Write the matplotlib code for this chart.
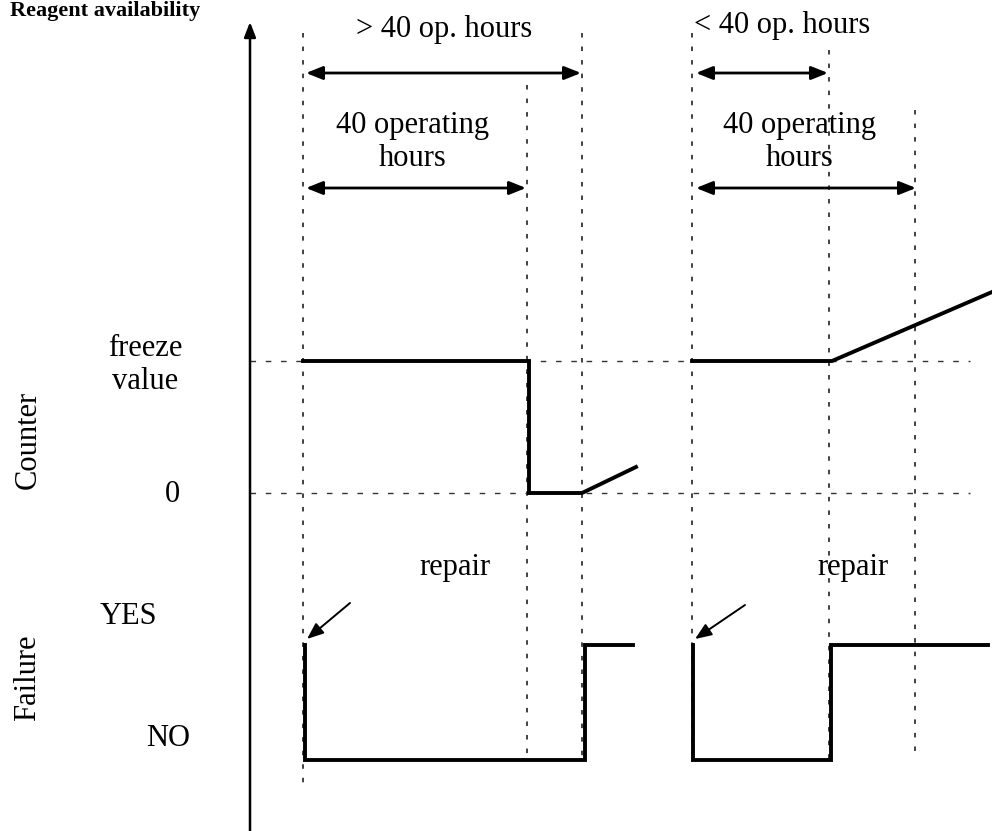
import matplotlib
matplotlib.use("Agg")
import matplotlib.pyplot as plt

# ---- data (diagram coordinates: x = time position, y = level position) ----
axis_x = 250
axis_y_range = [831, 22]

# vertical event markers (time positions) and their top ends
event_x = [303, 527, 582, 692, 829, 915]
event_top = [33, 85, 33, 33, 50, 110]
event_bottom = [790, 760, 760, 760, 760, 760]

# level positions
freeze_level = 361
zero_level = 493
yes_level = 645
no_level = 760
hline_x_range = [250, 970]

# counter signal
counter1_x = [303, 529, 529, 582, 636]
counter1_y = [361, 361, 493, 493, 467]
counter2_x = [692, 832, 992]
counter2_y = [361, 361, 292]

# failure signal
failure1_x = [305, 305, 585, 585, 633]
failure1_y = [645, 760, 760, 645, 645]
failure2_x = [693, 693, 831, 831, 988]
failure2_y = [645, 760, 760, 645, 645]

# failure arrows (tail, tip)
fail_arrows = [((350, 603), (307, 639)), ((745, 605), (695, 639))]

# span arrows: (x0, x1, y)
span_arrows = [(306, 581, 73), (306, 526, 188), (696, 828, 73), (696, 916, 188)]

# texts
span_labels = [("> 40 op. hours", 444, 30), ("40 operating\nhours", 413, 142),
               ("< 40 op. hours", 782, 25), ("40 operating\nhours", 800, 142)]
repair_labels = [("repair", 455, 568), ("repair", 853, 568)]
level_labels = [("freeze\nvalue", 145, 365), ("0", 172, 495),
                ("YES", 128, 616), ("NO", 168, 738)]
axis_labels = [("Counter", 28, 440), ("Failure", 28, 678)]
title = "Reagent availability"

FONT = "Liberation Serif"
FS = 22

fig = plt.figure(figsize=(9.92, 8.31), dpi=100)
ax = fig.add_axes([0, 0, 1, 1])
ax.set_xlim(0, 992)
ax.set_ylim(831, 0)
ax.axis("off")

# main axis with arrow
ax.annotate("", xy=(axis_x, axis_y_range[1]), xytext=(axis_x, axis_y_range[0]),
            arrowprops=dict(arrowstyle="-|>,head_length=0.9,head_width=0.35", color="black", lw=1.8,
                            shrinkA=0, shrinkB=0))

# vertical dashed markers
for x, t, b in zip(event_x, event_top, event_bottom):
    ax.plot([x, x], [t, b], color="#333333", lw=1.3, linestyle=(0, (2.5, 5)))

# horizontal dashed level lines
for y in [freeze_level, zero_level]:
    ax.plot(hline_x_range, [y, y], color="#333333", lw=1.0, linestyle=(0, (4, 7)))

# signals
for xs, ys in [(counter1_x, counter1_y), (counter2_x, counter2_y),
               (failure1_x, failure1_y), (failure2_x, failure2_y)]:
    ax.plot(xs, ys, color="black", lw=2.8, solid_joinstyle="miter")

# failure arrows
for tail, tip in fail_arrows:
    ax.annotate("", xy=tip, xytext=tail,
                arrowprops=dict(arrowstyle="-|>,head_length=1.0,head_width=0.4", color="black", lw=1.4,
                                shrinkA=0, shrinkB=0))

# span double arrows
for x0, x1, y in span_arrows:
    ax.annotate("", xy=(x1, y), xytext=(x0, y),
                arrowprops=dict(arrowstyle="<|-|>,head_length=1.0,head_width=0.4", color="black", lw=2.0,
                                shrinkA=0, shrinkB=0))

for s, x, y in span_labels:
    ax.text(x, y, s, ha="center", va="center", fontsize=FS, family=FONT, linespacing=1.15)
for s, x, y in repair_labels:
    ax.text(x, y, s, ha="center", va="center", fontsize=FS, family=FONT)
for s, x, y in level_labels:
    ax.text(x, y, s, ha="center", va="center", fontsize=FS, family=FONT, linespacing=1.15)
for s, x, y in axis_labels:
    ax.text(x, y, s, ha="center", va="center", fontsize=FS, family=FONT, rotation=90)

ax.text(10, 1, title, ha="left", va="top", fontsize=16, family=FONT, fontweight="bold")

fig.savefig("out.png", dpi=100)
